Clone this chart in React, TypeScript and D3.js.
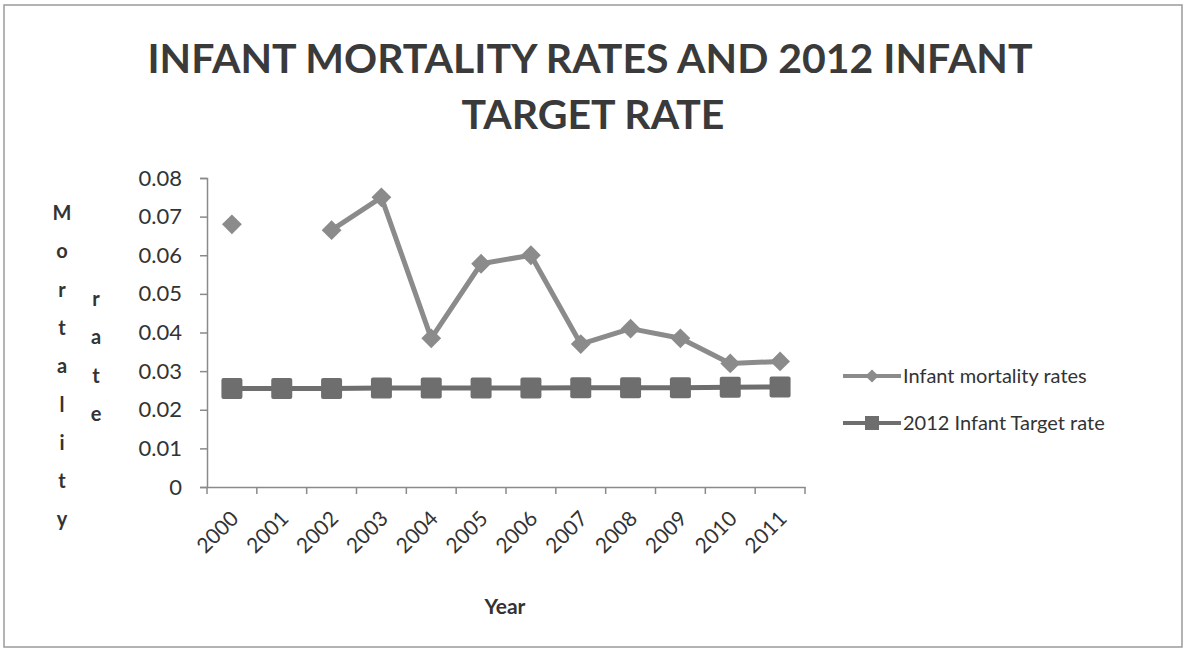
import React, { useEffect, useRef } from 'react';
import * as d3 from 'd3';

const years = ['2000', '2001', '2002', '2003', '2004', '2005', '2006', '2007', '2008', '2009', '2010', '2011'];
const mortality: (number | null)[] = [0.068, null, 0.0665, 0.075, 0.0385, 0.0578, 0.06, 0.037, 0.041, 0.0385, 0.032, 0.0325];
const target = [0.0255, 0.0255, 0.0255, 0.0256, 0.0256, 0.0256, 0.0256, 0.0257, 0.0257, 0.0257, 0.0258, 0.0259];
const yTicks = [0, 0.01, 0.02, 0.03, 0.04, 0.05, 0.06, 0.07, 0.08];
const seriesNames = ['Infant mortality rates', '2012 Infant Target rate'];

export default function App() {
  const svgRef = useRef<SVGSVGElement>(null);

  useEffect(() => {
    if (!svgRef.current) return;
    const svg = d3.select(svgRef.current);
    svg.selectAll('*').remove();

    const width = 1188;
    const height = 653;
    const margin = { top: 178, right: 383, bottom: 166, left: 207 };
    const font = 'Lato, "Open Sans", sans-serif';
    const textColor = '#333';

    svg.append('rect')
      .attr('x', 0).attr('y', 0).attr('width', width).attr('height', height)
      .attr('fill', '#fff');
    svg.append('rect')
      .attr('x', 4).attr('y', 5).attr('width', 1178).attr('height', 642)
      .attr('fill', 'none').attr('stroke', '#9a9a9a').attr('stroke-width', 1.5);

    // Scales
    const x = d3.scaleBand()
      .domain(years)
      .range([margin.left, width - margin.right]);
    const y = d3.scaleLinear()
      .domain([0, 0.08])
      .range([height - margin.bottom, margin.top]);
    const cx = (d: string) => (x(d) as number) + x.bandwidth() / 2;

    // Title
    const title = svg.append('g')
      .attr('font-family', font).attr('font-weight', 'bold')
      .attr('font-size', 41).attr('fill', '#3a3a3a').attr('text-anchor', 'middle');
    title.append('text').attr('x', 590).attr('y', 73).text('INFANT MORTALITY RATES AND 2012 INFANT');
    title.append('text').attr('x', 593).attr('y', 129).text('TARGET RATE');

    // Axes
    const axisColor = '#8a8a8a';
    const yAxis = svg.append('g')
      .attr('transform', `translate(${margin.left},0)`)
      .call(d3.axisLeft(y).tickValues(yTicks).tickSize(7).tickFormat(d => d === 0 ? '0' : d3.format('.2f')(d as number)));
    const xAxis = svg.append('g')
      .attr('transform', `translate(0,${height - margin.bottom})`)
      .call(d3.axisBottom(x).tickSize(0).tickFormat(() => ''));
    xAxis.selectAll('.tick').remove();
    // category boundary ticks
    const bounds = years.map(d => x(d) as number).concat([width - margin.right]);
    svg.append('g').selectAll('line').data(bounds).join('line')
      .attr('x1', d => d).attr('x2', d => d)
      .attr('y1', height - margin.bottom).attr('y2', height - margin.bottom + 7)
      .attr('stroke', axisColor).attr('stroke-width', 1.5);

    [yAxis, xAxis].forEach(a => {
      a.select('.domain').attr('stroke', axisColor).attr('stroke-width', 1.5);
      a.selectAll('.tick line').attr('stroke', axisColor).attr('stroke-width', 1.5);
    });
    yAxis.selectAll('.tick text')
      .attr('font-family', font).attr('font-size', 22).attr('fill', textColor).attr('x', -25);

    // x tick labels rotated
    svg.append('g').selectAll('text').data(years).join('text')
      .attr('transform', d => `translate(${cx(d) + 8},${height - margin.bottom + 33}) rotate(-45)`)
      .attr('text-anchor', 'end')
      .attr('font-family', font).attr('font-size', 21).attr('fill', textColor)
      .text(d => d);

    // Axis titles
    svg.append('text')
      .attr('x', 505).attr('y', 614).attr('text-anchor', 'middle')
      .attr('font-family', font).attr('font-weight', 'bold').attr('font-size', 21)
      .attr('fill', textColor).text('Year');
    svg.append('g').selectAll('text').data('Mortality'.split('')).join('text')
      .attr('x', 62).attr('y', (d, i) => 220 + i * 38.3).attr('text-anchor', 'middle')
      .attr('font-family', font).attr('font-weight', 'bold').attr('font-size', 20)
      .attr('fill', textColor).text(d => d);
    svg.append('g').selectAll('text').data('rate'.split('')).join('text')
      .attr('x', 96).attr('y', (d, i) => 306 + i * 38.3).attr('text-anchor', 'middle')
      .attr('font-family', font).attr('font-weight', 'bold').attr('font-size', 20)
      .attr('fill', textColor).text(d => d);

    // Target line
    const targetColor = '#6e6e6e';
    const mortColor = '#8b8b8b';
    const targetData = years.map((d, i) => ({ year: d, value: target[i] }));
    const mortData = years.map((d, i) => ({ year: d, value: mortality[i] }));

    const line = d3.line<{ year: string; value: number | null }>()
      .defined(d => d.value !== null)
      .x(d => cx(d.year))
      .y(d => y(d.value as number));

    svg.append('path').datum(targetData)
      .attr('d', line).attr('fill', 'none')
      .attr('stroke', targetColor).attr('stroke-width', 5);
    const sq = 21;
    svg.append('g').selectAll('rect').data(targetData).join('rect')
      .attr('x', d => cx(d.year) - sq / 2).attr('y', d => y(d.value) - sq / 2)
      .attr('width', sq).attr('height', sq).attr('rx', 2).attr('fill', targetColor);

    // Mortality line
    svg.append('path').datum(mortData)
      .attr('d', line).attr('fill', 'none')
      .attr('stroke', mortColor).attr('stroke-width', 5).attr('stroke-linejoin', 'round');
    const diamond = d3.symbol().type(d3.symbolDiamond2).size(250);
    svg.append('g').selectAll('path').data(mortData.filter(d => d.value !== null)).join('path')
      .attr('transform', d => `translate(${cx(d.year)},${y(d.value as number)})`)
      .attr('d', diamond).attr('fill', mortColor);

    // Legend
    const legend = svg.append('g').attr('font-family', font).attr('font-size', 20).attr('fill', textColor);
    const legendY = [376, 423];
    seriesNames.forEach((name, i) => {
      const g = legend.append('g').attr('transform', `translate(843,${legendY[i]})`);
      const color = i === 0 ? mortColor : targetColor;
      g.append('line').attr('x1', 0).attr('x2', 58).attr('y1', 0).attr('y2', 0)
        .attr('stroke', color).attr('stroke-width', 4);
      if (i === 0) {
        g.append('path').attr('transform', 'translate(29,0)')
          .attr('d', d3.symbol().type(d3.symbolDiamond2).size(110)).attr('fill', color);
      } else {
        g.append('rect').attr('x', 22).attr('y', -7).attr('width', 14).attr('height', 14).attr('fill', color);
      }
      g.append('text').attr('x', 60).attr('y', 7).text(name);
    });
  }, []);

  return (
    <svg ref={svgRef} width={1188} height={653}
      style={{ position: 'absolute', left: 0, top: 0, display: 'block' }} />
  );
}
